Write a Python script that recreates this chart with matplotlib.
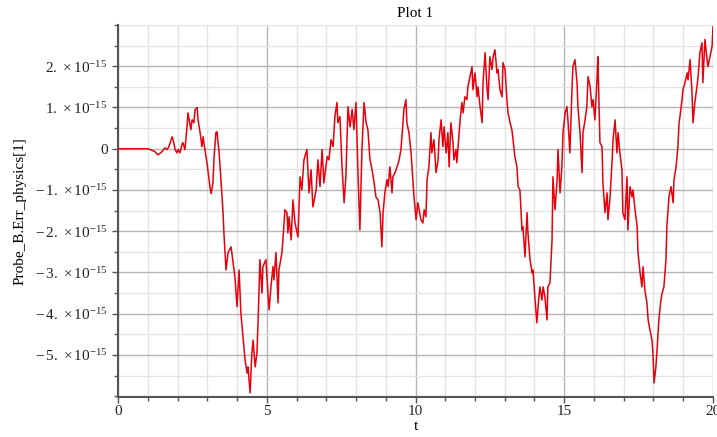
import matplotlib
matplotlib.use('Agg')
import matplotlib.pyplot as plt
from matplotlib.ticker import MultipleLocator

plt.rcParams['font.family'] = ['Liberation Serif', 'DejaVu Serif']
plt.rcParams['mathtext.fontset'] = 'custom'
plt.rcParams['mathtext.rm'] = 'Liberation Serif'
plt.rcParams['mathtext.it'] = 'Liberation Serif:italic'

# valores (t, erro em unidades de 1e-15)
t_vals = [0.00, 1.01, 1.08, 1.24, 1.34, 1.48, 1.58, 1.65, 1.71, 1.82, 1.85, 1.92, 1.98, 2.02,
          2.08, 2.15, 2.18, 2.25, 2.32, 2.35, 2.39, 2.45, 2.49, 2.55, 2.59, 2.66, 2.69, 2.76,
          2.82, 2.86, 2.92, 2.99, 3.03, 3.09, 3.13, 3.19, 3.23, 3.29, 3.33, 3.36, 3.39, 3.46,
          3.53, 3.56, 3.63, 3.70, 3.80, 3.87, 3.93, 4.00, 4.07, 4.13, 4.20, 4.27, 4.34, 4.37,
          4.44, 4.50, 4.54, 4.61, 4.67, 4.71, 4.77, 4.84, 4.87, 4.97, 5.04, 5.08, 5.14, 5.21,
          5.24, 5.31, 5.38, 5.41, 5.51, 5.55, 5.61, 5.68, 5.71, 5.75, 5.82, 5.88, 5.95, 6.05,
          6.12, 6.18, 6.25, 6.35, 6.42, 6.49, 6.55, 6.66, 6.72, 6.79, 6.86, 6.92, 7.03, 7.09,
          7.16, 7.23, 7.29, 7.36, 7.39, 7.46, 7.53, 7.60, 7.66, 7.73, 7.80, 7.87, 7.93, 8.00,
          8.07, 8.13, 8.20, 8.27, 8.34, 8.40, 8.47, 8.54, 8.61, 8.67, 8.74, 8.81, 8.87, 8.91,
          8.97, 9.04, 9.08, 9.14, 9.21, 9.24, 9.31, 9.38, 9.45, 9.51, 9.58, 9.61, 9.68, 9.71,
          9.78, 9.85, 9.92, 9.95, 10.02, 10.08, 10.12, 10.18, 10.25, 10.29, 10.35, 10.39,
          10.45, 10.52, 10.55, 10.62, 10.69, 10.76, 10.79, 10.86, 10.92, 10.96, 11.03, 11.09,
          11.13, 11.19, 11.26, 11.29, 11.36, 11.39, 11.43, 11.50, 11.56, 11.60, 11.66, 11.73,
          11.76, 11.83, 11.90, 11.93, 12.00, 12.07, 12.10, 12.17, 12.24, 12.27, 12.34, 12.40,
          12.44, 12.50, 12.57, 12.61, 12.67, 12.74, 12.77, 12.84, 12.91, 12.94, 13.01, 13.08,
          13.11, 13.18, 13.24, 13.28, 13.34, 13.41, 13.45, 13.51, 13.58, 13.61, 13.68, 13.75,
          13.78, 13.85, 13.92, 13.95, 14.02, 14.08, 14.12, 14.18, 14.25, 14.29, 14.35, 14.42,
          14.45, 14.52, 14.59, 14.62, 14.69, 14.76, 14.79, 14.86, 14.92, 14.96, 15.03, 15.09,
          15.13, 15.19, 15.26, 15.29, 15.36, 15.43, 15.46, 15.53, 15.60, 15.63, 15.70, 15.76,
          15.80, 15.87, 15.93, 15.97, 16.03, 16.10, 16.13, 16.20, 16.27, 16.30, 16.37, 16.44,
          16.47, 16.54, 16.61, 16.64, 16.71, 16.77, 16.81, 16.87, 16.94, 16.97, 17.04, 17.11,
          17.14, 17.21, 17.28, 17.31, 17.38, 17.45, 17.48, 17.55, 17.61, 17.65, 17.71, 17.78,
          17.82, 17.88, 17.95, 17.98, 18.02, 18.08, 18.12, 18.18, 18.25, 18.29, 18.35, 18.42,
          18.45, 18.52, 18.59, 18.66, 18.69, 18.76, 18.82, 18.86, 18.89, 18.96, 18.99, 19.06,
          19.13, 19.16, 19.23, 19.29, 19.33, 19.39, 19.46, 19.50, 19.56, 19.63, 19.66, 19.73,
          19.80, 19.83, 19.90, 19.97, 20.00]

err_vals = [0.00, 0.00, -0.02, -0.07, -0.15, -0.07, 0.02, -0.02, 0.05, 0.29, 0.22, -0.02, -0.10, -0.02,
            -0.10, 0.10, 0.15, -0.02, 0.53, 0.87, 0.70, 0.46, 0.70, 0.63, 0.95, 1.00, 0.70, 0.39,
            0.05, 0.29, -0.02, -0.34, -0.58, -0.92, -1.09, -0.83, -0.19, 0.39, 0.41, 0.15, -0.02, -0.75,
            -1.55, -2.04, -2.94, -2.52, -2.38, -2.77, -3.11, -3.83, -2.94, -3.98, -4.56, -5.12, -5.44, -5.29,
            -5.92, -4.95, -4.64, -5.29, -4.95, -4.15, -2.69, -3.50, -2.86, -2.69, -3.50, -3.91, -3.35, -2.86,
            -3.18, -2.52, -3.74, -2.94, -2.52, -2.14, -1.48, -1.55, -2.04, -1.65, -2.21, -1.24, -1.80, -2.14,
            -0.68, -1.00, -0.27, -0.02, -1.07, -0.51, -1.41, -1.00, -0.27, -0.92, -0.02, -0.83, -0.19, -0.27,
            0.22, 0.05, 0.78, 1.12, 0.63, 0.78, -0.44, -1.31, -0.68, 1.02, 0.53, 0.95, 0.46, 1.12,
            -0.68, -1.97, -0.02, 1.12, 0.63, 0.46, -0.27, -0.51, -0.83, -1.17, -1.24, -1.55, -2.38, -1.55,
            -1.07, -0.75, -0.92, -0.44, -1.07, -0.68, -0.58, -0.44, -0.27, -0.02, 0.63, 0.95, 1.19, 0.63,
            0.39, -0.10, -0.83, -1.17, -1.72, -1.31, -1.48, -1.72, -1.80, -1.48, -1.65, -0.75,
            -0.44, 0.39, -0.10, 0.22, -0.58, -0.27, 0.22, 0.70, 0.05, 0.53, -0.10, 0.39,
            -0.44, 0.63, 0.15, -0.27, -0.02, -0.34, 0.05, 0.70, 1.12, 0.87, 1.26, 1.19,
            1.50, 1.75, 1.99, 1.43, 1.84, 1.26, 1.50, 1.02, 0.63, 1.60, 2.33, 1.50,
            1.19, 2.23, 1.92, 2.23, 2.40, 1.84, 1.92, 1.43, 1.26, 2.09, 1.92, 1.12,
            0.87, 0.63, 0.46, 0.22, -0.19, -0.44, -0.92, -1.00, -1.97, -1.89, -2.62, -1.55,
            -2.04, -2.69, -3.01, -2.94, -3.67, -4.22, -3.83, -3.35, -3.67, -3.35, -3.59, -4.15,
            -3.35, -3.25, -2.21, -0.68, -1.48, -0.75, -0.02, -1.07, -0.44, 0.39, 0.87, 1.02,
            0.63, -0.10, 1.43, 1.99, 2.16, 1.60, 1.02, 0.39, -0.58, 0.39, 0.70, 1.02,
            1.75, 1.50, 1.02, 1.19, 0.70, 1.67, 2.23, 0.15, 0.05, -0.83, -1.55, -1.07,
            -1.72, -1.17, -0.27, 0.22, 0.70, -0.10, 0.39, -0.10, -0.51, -1.55, -1.72, -0.68,
            -1.97, -0.92, -1.17, -1.00, -1.48, -1.89, -2.52, -3.01, -3.35, -2.86, -3.42, -3.74,
            -4.15, -4.39, -4.64, -4.95, -5.68, -5.29, -4.88, -4.15, -3.67, -3.50, -3.35, -2.69,
            -1.89, -1.17, -0.92, -1.31, -0.75, -0.44, 0.05, 0.63, 0.78, 1.19, 1.43, 1.60,
            1.84, 1.67, 2.16, 1.43, 0.63, 1.12, 1.50, 1.75, 2.33, 2.57, 1.60, 2.65,
            2.16, 1.99, 2.23, 2.48, 2.96]

y_ticks = [-5, -4, -3, -2, -1, 0, 1, 2]
y_labels = [r'$-\,5.\,\times 10^{-15}$', r'$-\,4.\,\times 10^{-15}$', r'$-\,3.\,\times 10^{-15}$',
            r'$-\,2.\,\times 10^{-15}$', r'$-\,1.\,\times 10^{-15}$', '0',
            r'$1.\,\times 10^{-15}$', r'$2.\,\times 10^{-15}$']
x_ticks = [0, 5, 10, 15, 20]


def gera_grafico():
    fig = plt.figure(figsize=(7.17, 4.37), dpi=100)
    ax = fig.add_axes([0.1646, 0.0915, 0.8298, 0.8513])

    y = [v * 1e-15 for v in err_vals]
    ax.plot(t_vals, y, color='#e8000b', lw=1.1, zorder=3)

    ax.set_xlim(0, 20)
    ax.set_ylim(-6.02e-15, 3.0e-15)
    ax.set_xticks(x_ticks)
    ax.set_xticklabels([str(v) for v in x_ticks])
    ax.set_yticks([v * 1e-15 for v in y_ticks])
    ax.set_yticklabels(y_labels)
    ax.xaxis.set_minor_locator(MultipleLocator(1))
    ax.yaxis.set_minor_locator(MultipleLocator(0.5e-15))

    # Grade maior e menor como no Maple.
    ax.grid(which='major', color='#b4b4b4', lw=1.0, zorder=1)
    ax.grid(which='minor', color='#e4e4e4', lw=1.0, zorder=0)

    for s in ['top', 'right']:
        ax.spines[s].set_visible(False)
    for s in ['left', 'bottom']:
        ax.spines[s].set_color('#555555')
        ax.spines[s].set_linewidth(1.5)

    ax.tick_params(which='major', length=4, width=1, color='#555555',
                   labelsize=11, labelcolor='#222222')
    ax.tick_params(which='minor', length=3, width=1, color='#555555')
    ax.tick_params(axis='x', pad=2)

    ax.set_title('Plot 1', fontsize=11, pad=6)
    ax.set_xlabel('t', fontsize=11, labelpad=1)
    ax.set_ylabel('Probe_B.Err_physics[1]', fontsize=11, labelpad=6)

    fig.savefig('out.png', dpi=100)


def main():
    gera_grafico()


if __name__ == '__main__':
    main()
